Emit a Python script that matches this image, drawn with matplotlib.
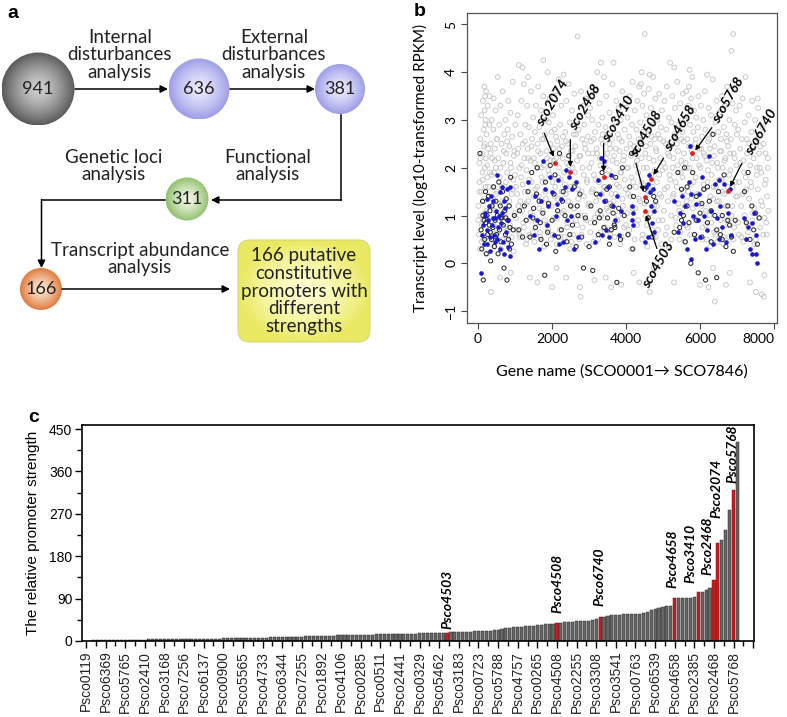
import numpy as np
import matplotlib
matplotlib.use("Agg")
import matplotlib.pyplot as plt
from matplotlib.patches import Circle, FancyBboxPatch
from matplotlib.colors import to_rgb

SANS = ['Lato', 'DejaVu Sans']
ARIAL = ['Liberation Sans', 'DejaVu Sans']

# ---------------- panel a : flow chart ----------------
flow_counts = ['941', '636', '381', '311', '166']
flow_steps = ['Internal\ndisturbances\nanalysis', 'External\ndisturbances\nanalysis',
              'Functional\nanalysis', 'Genetic loci\nanalysis',
              'Transcript abundance\nanalysis']
flow_result = '166 putative\nconstitutive\npromoters with\ndifferent\nstrengths'

# ---------------- panel b : transcript levels ----------------
gray_pts = [
    (10,1.2),(20,0.6),(30,2.1),(40,1.7),(50,0.3),(60,2.6),(70,1.0),(80,3.1),(90,1.5),(100,0.8),
    (110,2.3),(120,1.9),(130,3.4),(140,0.5),(150,2.8),(160,1.3),(170,3.7),(175,3.2),(180,2.5),(185,2.0),
    (190,3.5),(195,2.9),(200,1.6),(205,3.0),(210,2.2),(215,3.6),(220,1.1),(230,2.7),(240,0.2),(250,1.8),
    (260,3.3),(270,2.4),(280,0.9),(290,1.4),(300,2.9),(310,3.5),(320,1.9),(330,0.4),(340,2.5),(350,-0.6),
    (360,1.2),(370,3.0),(380,2.2),(390,0.7),(400,1.6),
    (410,2.8),(420,3.45),(430,1.9),(440,0.35),(450,2.4),(460,1.1),(470,3.2),(480,2.0),(490,0.6),(500,2.6),
    (515,1.5),(530,3.9),(545,2.2),(560,0.9),(575,2.9),(590,1.8),(605,3.3),(620,0.3),(635,2.5),(650,1.3),
    (665,3.6),(680,2.1),(695,0.75),(710,2.7),(725,1.6),(740,3.0),(755,2.3),(770,0.5),(785,1.9),(800,2.8),
    (815,3.4),(830,1.2),(845,2.45),(860,0.8),(875,3.15),(890,2.0),(905,1.45),(920,2.65),(935,3.8),(950,1.75),
    (965,0.25),(980,2.35),(995,1.05),(600,-0.3),(880,-0.2),
    (1010,2.9),(1025,1.6),(1040,0.7),(1055,2.3),(1070,3.1),(1085,1.2),(1100,4.15),(1115,2.0),(1130,0.55),
    (1145,2.7),(1160,1.8),(1175,3.4),(1190,1.1),(1205,2.5),(1220,0.85),(1235,3.75),(1250,2.2),(1265,1.5),
    (1280,2.9),(1295,0.4),(1310,1.95),(1325,3.3),(1340,2.4),(1355,1.3),(1370,2.85),(1385,0.6),(1400,-0.3),
    (1415,2.15),(1430,3.6),(1445,1.7),(1460,2.6),(1475,1.0),(1490,3.05),(1200,4.1),(1350,3.9),
    (1505,2.2),(1520,0.45),(1535,2.75),(1550,1.55),(1565,3.3),(1580,2.0),(1595,0.9),(1610,2.5),(1625,3.7),
    (1640,1.4),(1655,2.85),(1670,0.65),(1685,2.3),(1700,3.2),(1715,1.8),(1730,2.6),(1745,1.1),(1760,3.5),
    (1775,2.05),(1790,0.35),(1805,2.7),(1820,1.5),(1835,3.0),(1850,2.35),(1865,0.8),(1880,4.0),(1895,1.95),
    (1910,2.95),(1925,1.25),(1940,3.45),(1955,2.15),(1970,0.5),(1985,2.75),(2000,-0.5),(1600,-0.4),(1760,4.25),
    (2010,1.7),(2025,3.1),(2040,2.4),(2055,0.95),(2070,2.8),(2085,1.6),(2100,3.6),(2115,2.2),(2130,0.4),
    (2145,2.55),(2160,1.35),(2175,3.85),(2190,2.0),(2205,0.7),(2220,2.9),(2235,1.75),(2250,3.3),(2265,2.45),
    (2280,1.05),(2295,2.65),(2310,3.95),(2325,1.9),(2340,0.55),(2355,2.75),(2370,1.45),(2385,3.4),(2400,2.1),
    (2415,0.85),(2430,2.5),(2445,3.75),(2460,1.55),(2475,2.95),(2490,0.3),(2120,-0.1),(2380,-0.3),
    (2510,2.35),(2525,1.2),(2540,3.2),(2555,2.0),(2570,0.6),(2585,2.7),(2600,3.55),(2615,1.65),(2630,2.45),
    (2645,0.9),(2660,3.0),(2675,2.15),(2690,4.75),(2705,1.35),(2720,2.8),(2735,0.5),(2750,-0.5),(2765,2.25),
    (2780,3.6),(2795,1.5),(2810,2.6),(2825,0.75),(2840,3.3),(2855,1.85),(2870,2.9),(2885,1.0),(2900,2.4),
    (2915,3.45),(2930,0.4),(2945,1.75),(2960,2.65),(2975,3.1),(2990,1.2),(2770,-0.7),
    (3010,2.0),(3025,3.25),(3040,0.85),(3055,2.55),(3070,1.5),(3085,3.0),(3100,2.3),(3115,0.45),(3130,1.85),
    (3145,-0.35),(3160,2.75),(3175,3.6),(3190,1.3),(3205,2.4),(3220,4.0),(3235,1.05),(3250,2.9),(3265,1.7),
    (3280,3.35),(3295,2.2),(3310,0.65),(3325,2.6),(3340,1.45),(3355,3.05),(3370,2.5),(3385,0.95),(3400,3.9),
    (3415,2.05),(3430,1.6),(3445,2.85),(3460,3.5),(3475,1.15),(3490,2.3),(3320,4.2),(3450,-0.3),
    (3510,2.7),(3525,0.7),(3540,1.95),(3555,3.15),(3570,2.4),(3585,1.25),(3600,-0.5),(3615,2.6),(3630,3.75),
    (3645,1.8),(3660,4.2),(3675,2.25),(3690,0.55),(3705,2.95),(3720,1.45),(3735,3.4),(3750,2.1),(3765,0.9),
    (3780,2.7),(3795,3.25),(3810,1.6),(3825,2.35),(3840,0.4),(3855,3.0),(3870,1.9),(3885,2.55),(3900,3.6),
    (3915,1.2),(3930,2.15),(3945,0.75),(3960,2.8),(3975,3.35),(3990,1.55),(3870,-0.45),
    (4010,2.4),(4025,1.05),(4040,3.05),(4055,2.0),(4070,0.6),(4085,2.65),(4100,3.5),(4115,1.4),(4130,2.25),
    (4145,0.3),(4160,2.9),(4175,3.8),(4190,1.7),(4205,-0.2),(4220,2.45),(4235,3.2),(4250,1.15),(4265,2.05),
    (4280,2.8),(4295,0.8),(4310,3.4),(4325,1.9),(4340,2.6),(4355,3.7),(4370,1.3),(4385,2.95),(4400,3.75),
    (4415,2.2),(4430,0.5),(4445,3.3),(4460,1.65),(4475,2.75),(4490,3.55),(4360,-0.4),(4420,4.0),
    (4505,4.8),(4520,2.3),(4535,1.0),(4550,3.1),(4565,2.0),(4580,0.35),(4595,2.7),(4610,3.65),(4625,1.5),
    (4640,-0.6),(4655,2.5),(4670,3.25),(4685,1.85),(4700,0.7),(4715,2.9),(4730,3.9),(4745,2.15),(4760,1.2),
    (4775,2.6),(4790,3.45),(4805,0.55),(4820,2.35),(4835,1.7),(4850,3.0),(4865,2.7),(4880,0.9),(4895,3.55),
    (4910,1.45),(4925,2.2),(4940,2.85),(4955,0.4),(4970,3.2),(4985,1.95),(4640,3.95),(4750,-0.1),
    (5010,2.55),(5025,1.1),(5040,3.4),(5055,2.0),(5070,0.6),(5085,2.8),(5100,3.7),(5115,1.6),(5130,2.3),
    (5145,0.35),(5160,3.05),(5175,1.85),(5190,4.2),(5205,2.45),(5220,1.0),(5235,2.95),(5250,3.5),(5265,1.4),
    (5280,2.2),(5295,-0.4),(5310,2.7),(5325,3.25),(5340,1.7),(5355,0.8),(5370,2.5),(5385,3.8),(5400,2.05),
    (5415,1.25),(5430,2.9),(5445,0.5),(5460,3.35),(5475,1.9),(5490,2.6),(5300,4.1),
    (5505,1.05),(5520,2.75),(5535,3.55),(5550,1.5),(5565,2.3),(5580,0.45),(5595,3.0),(5610,2.1),(5625,3.6),
    (5640,1.3),(5655,2.6),(5670,0.75),(5685,3.3),(5700,3.7),(5715,2.0),(5730,2.9),(5745,1.65),(5760,3.45),
    (5775,2.35),(5790,3.9),(5805,1.15),(5820,2.75),(5835,3.2),(5850,0.6),(5865,2.5),(5880,1.8),(5895,3.05),
    (5910,2.2),(5925,0.9),(5940,2.85),(5955,3.5),(5970,1.45),(5985,2.4),(6000,-0.45),(5720,4.05),
    (6010,2.0),(6025,3.3),(6040,1.2),(6055,2.65),(6070,0.5),(6085,3.0),(6100,2.3),(6115,1.55),(6130,3.6),
    (6145,2.8),(6160,0.8),(6175,2.15),(6190,3.95),(6205,1.7),(6220,2.55),(6235,3.25),(6250,1.0),(6265,2.4),
    (6280,0.35),(6295,3.1),(6310,1.85),(6325,2.7),(6340,3.85),(6355,1.35),(6370,2.25),(6385,0.65),(6400,-0.8),
    (6415,2.95),(6430,1.6),(6445,3.4),(6460,2.1),(6475,0.45),(6490,2.75),(6350,-0.1),(6230,-0.5),
    (6505,1.3),(6520,3.15),(6535,2.35),(6550,0.7),(6565,2.6),(6580,1.75),(6595,3.5),(6610,2.0),(6625,0.4),
    (6640,2.85),(6655,1.45),(6670,3.3),(6685,2.2),(6700,0.9),(6715,2.7),(6730,3.7),(6745,1.6),(6760,2.45),
    (6775,0.55),(6790,3.0),(6805,-0.2),(6820,1.95),(6835,2.6),(6850,4.45),(6865,1.2),(6880,3.35),(6895,4.8),
    (6910,2.3),(6925,0.75),(6940,2.9),(6955,1.7),(6970,3.2),(6985,2.05),(6700,-0.45),
    (7010,1.4),(7030,2.8),(7050,0.6),(7070,3.3),(7090,2.1),(7110,1.2),(7130,2.6),(7150,3.45),(7170,0.45),
    (7190,1.9),(7210,2.95),(7230,3.9),(7250,1.55),(7270,2.3),(7290,0.8),(7310,3.1),(7330,2.5),(7350,-0.4),
    (7370,1.7),(7390,2.75),(7410,3.4),(7430,1.05),(7450,2.2),(7470,0.4),(7490,3.0),(7510,-0.6),(7530,1.85),
    (7550,2.6),(7570,3.25),(7590,0.95),(7610,2.0),(7630,2.45),(7650,1.3),(7670,-0.65),(7690,2.85),(7710,0.6),
    (7730,-0.7),(7750,1.65),(7770,2.3),(7790,0.85),(7810,1.4),(7830,2.0),(7845,1.1),(7560,3.45),(7740,-0.25),
    # denser core of the cloud
    (5,0.9),(35,1.5),(65,2.2),(95,0.45),(125,1.75),(155,2.45),(185,1.05),(215,0.55),(245,2.05),(275,1.6),
    (305,0.95),(335,2.3),(365,1.85),(395,1.35),(425,0.8),(455,2.15),(485,1.45),(515,2.6),(545,0.65),(575,1.25),
    (605,2.0),(635,1.6),(665,0.5),(695,2.35),(725,1.05),(755,1.7),(785,2.55),(815,0.7),(845,1.3),(875,2.1),
    (905,0.55),(935,1.55),(965,2.25),(995,1.85),
    (1025,0.95),(1055,1.45),(1085,2.4),(1115,0.6),(1145,1.3),(1175,2.05),(1205,1.65),(1235,0.75),(1265,2.55),
    (1295,1.25),(1325,0.5),(1355,2.2),(1385,1.75),(1415,1.05),(1445,2.45),(1475,0.65),(1505,1.4),(1535,2.1),
    (1565,0.85),(1595,1.6),(1625,2.35),(1655,1.15),(1685,0.55),(1715,2.0),(1745,1.7),(1775,2.6),(1805,0.9),
    (1835,1.35),(1865,2.2),(1895,0.7),(1925,1.85),(1955,2.5),(1985,1.2),
    (2015,0.6),(2045,2.15),(2075,1.4),(2105,2.65),(2135,0.95),(2165,1.8),(2195,2.4),(2225,0.55),(2255,1.5),
    (2285,2.2),(2315,1.1),(2345,1.65),(2375,2.55),(2405,0.75),(2435,1.3),(2465,2.05),(2495,1.6),(2525,0.45),
    (2555,2.35),(2585,1.15),(2615,1.9),(2645,2.7),(2675,0.8),(2705,1.55),(2735,2.25),(2765,1.0),(2795,0.6),
    (2825,2.0),(2855,1.4),(2885,2.5),(2915,0.9),(2945,1.7),(2975,2.3),
    (3005,1.25),(3035,0.65),(3065,2.1),(3095,1.55),(3125,2.6),(3155,0.95),(3185,1.75),(3215,2.3),(3245,0.5),
    (3275,1.4),(3305,2.05),(3335,1.0),(3365,2.7),(3395,1.6),(3425,0.75),(3455,2.2),(3485,1.85),(3515,1.1),
    (3545,2.5),(3575,0.6),(3605,1.45),(3635,2.15),(3665,1.3),(3695,0.85),(3725,2.4),(3755,1.65),(3785,1.0),
    (3815,2.6),(3845,1.9),(3875,0.55),(3905,1.35),(3935,2.25),(3965,1.75),(3995,0.8),
    (4025,2.0),(4055,1.45),(4085,0.7),(4115,2.5),(4145,1.8),(4175,1.15),(4205,2.3),(4235,0.5),(4265,1.6),
    (4295,2.15),(4325,0.9),(4355,1.35),(4385,2.55),(4415,1.7),(4445,0.6),(4475,2.0),(4505,1.25),(4535,2.45),
    (4565,0.8),(4595,1.5),(4625,2.2),(4655,1.05),(4685,2.65),(4715,1.6),(4745,0.55),(4775,1.95),(4805,2.4),
    (4835,1.2),(4865,0.7),(4895,1.85),(4925,2.6),(4955,1.4),(4985,0.9),
    (5015,2.1),(5045,1.55),(5075,2.5),(5105,0.75),(5135,1.3),(5165,2.25),(5195,1.75),(5225,0.5),(5255,2.0),
    (5285,1.45),(5315,2.65),(5345,0.95),(5375,1.6),(5405,2.35),(5435,1.1),(5465,0.65),(5495,2.15),(5525,1.8),
    (5555,2.55),(5585,1.2),(5615,0.8),(5645,2.0),(5675,1.5),(5705,2.45),(5735,0.6),(5765,1.35),(5795,2.2),
    (5825,1.7),(5855,0.95),(5885,2.6),(5915,1.45),(5945,0.55),(5975,2.05),
    (6005,1.25),(6035,2.4),(6065,0.75),(6095,1.65),(6125,2.25),(6155,1.1),(6185,0.5),(6215,1.95),(6245,2.6),
    (6275,1.4),(6305,0.85),(6335,2.1),(6365,1.6),(6395,2.45),(6425,0.6),(6455,1.3),(6485,2.0),(6515,1.75),
    (6545,0.9),(6575,2.35),(6605,1.5),(6635,0.55),(6665,2.15),(6695,1.2),(6725,2.55),(6755,0.8),(6785,1.85),
    (6815,2.3),(6845,1.0),(6875,1.6),(6905,0.5),(6935,2.2),(6965,1.4),(6995,2.7),
    (7025,0.85),(7055,1.7),(7085,2.4),(7115,0.55),(7145,1.45),(7175,2.15),(7205,1.0),(7235,1.8),(7265,2.6),
    (7295,0.65),(7325,1.35),(7355,2.05),(7385,1.6),(7415,0.9),(7445,2.45),(7475,1.15),(7505,0.5),(7535,2.0),
    (7565,1.55),(7595,2.3),(7625,0.75),(7655,1.9),(7685,1.2),(7715,2.5),(7745,0.95),(7775,1.75),(7805,0.6),
    (7835,2.2),
]

black_pts = [
    (50,2.3),(80,0.7),(100,0.3),(120,1.3),(140,-0.35),(160,0.9),(180,0.5),(200,1.5),(220,0.2),(240,1.0),
    (260,0.6),(280,1.4),(300,0.8),(320,1.1),(340,0.05),(360,0.5),(380,1.2),(400,0.75),(420,1.6),(440,0.35),
    (460,0.9),(480,1.3),(500,0.6),(520,1.0),(540,0.2),(560,1.7),(580,0.7),(600,1.2),(620,0.45),(640,0.95),
    (660,1.5),(680,0.8),(700,-0.1),(720,1.1),(740,0.6),(760,1.35),(780,-0.35),(800,0.9),(820,0.5),(840,1.2),
    (860,0.75),(880,1.8),(900,0.4),(950,0.7),(980,1.0),(130,1.0),(210,0.85),(330,0.65),(470,0.55),(610,0.95),
    (750,0.95),(850,0.3),
    (1100,0.7),(1120,1.1),(1200,0.55),(1250,1.2),(1300,0.9),(1350,1.5),(1400,0.55),(1450,1.9),(1500,1.15),
    (1550,0.75),(1600,2.0),(1650,1.3),(1700,0.5),(1750,1.05),(1800,-0.25),(1820,1.7),(1850,0.4),(1900,1.25),
    (1950,2.05),(2000,0.9),(2050,1.45),(2100,0.25),(2150,1.1),(2200,2.3),(2250,0.7),(2300,1.5),(2350,1.0),
    (2400,0.45),(2450,2.25),(2500,1.2),(2550,0.8),(2600,1.6),(2650,0.35),(2700,1.0),(2750,1.45),(2800,0.55),
    (2850,-0.1),(2900,0.95),(1480,0.95),(1680,0.85),(1880,0.65),(2080,1.85),(2280,1.3),(2480,0.6),(2680,1.2),
    (1580,1.45),(2170,0.55),
    (3000,0.35),(3050,1.2),(3100,-0.15),(3150,0.85),(3200,1.45),(3250,0.6),(3300,1.1),(3350,1.9),(3400,0.75),
    (3450,1.3),(3500,0.95),(3550,1.6),(3600,0.7),(3650,1.05),(3700,0.75),(3720,1.8),(3750,-0.4),(3800,1.15),
    (3850,0.5),(3900,2.0),(3950,1.0),(3550,0.4),(3480,1.55),(3680,0.8),(3620,1.2),(3280,0.95),
    (4050,0.6),(4100,1.6),(4150,2.3),(4180,0.3),(4200,1.4),(4250,2.35),(4500,1.55),(4550,1.3),(4600,0.95),
    (4700,0.55),(4750,1.4),(4800,1.3),
    (5300,0.65),(5400,1.9),(5450,0.75),(5500,1.55),(5550,1.0),(5580,2.0),(5600,0.45),(5650,1.2),(5700,0.85),
    (5750,0.0),(5800,1.9),(5850,0.6),(5900,1.4),(5950,-0.2),(6000,1.05),(6050,0.55),(6100,1.55),(6150,-0.35),
    (6200,0.85),(6250,1.3),(6300,0.45),(6350,2.7),(6400,1.0),(6450,-0.3),(6500,1.5),(6550,0.6),(6600,1.0),
    (6650,1.85),(6700,0.35),(6750,1.2),(6800,0.8),(6850,0.55),(6900,0.25),(5650,1.6),(5900,0.9),(6050,1.25),
    (6300,1.1),(6450,0.7),(6600,0.5),(6750,0.9),(6200,1.6),(5500,0.9),(6950,0.9),
    (7200,1.5),(7250,0.85),(7300,1.9),(7350,0.5),(7400,1.2),(7450,0.7),(7500,1.05),(7550,0.4),(7600,0.95),
]

blue_pts = [
    (100,0.6),(150,0.4),(80,-0.2),(200,1.0),(250,0.7),(280,0.9),(300,1.2),(320,0.55),(350,1.4),(380,0.8),
    (400,1.3),(420,0.6),(450,0.95),(480,1.1),(500,1.85),(520,0.5),(540,0.75),(560,1.0),(600,0.3),(620,0.85),
    (650,1.6),(680,0.45),(700,0.2),(720,1.15),(750,0.65),(780,1.55),(800,0.35),(820,0.9),(850,1.6),(870,0.15),
    (250,0.4),(330,0.25),(410,0.95),(460,0.45),(590,1.5),(640,1.05),(230,1.35),(180,1.05),(130,0.8),(700,1.3),
    (1350,1.7),(1400,1.0),(1500,0.6),(1550,1.4),(1600,0.9),(1700,1.3),(1750,2.15),(1800,1.55),(1850,0.8),
    (1900,1.2),(1950,1.8),(2000,1.5),(2050,0.6),(2100,1.0),(2150,1.75),(2200,0.4),(2250,1.35),(2300,0.45),
    (2350,1.6),(2400,0.9),(2450,1.8),(2500,1.0),(2550,1.55),(2600,0.3),(2650,1.7),(2700,0.55),(1650,0.3),
    (2120,1.25),(2380,1.95),
    (3150,0.45),(3250,1.75),(3300,1.45),(3330,2.2),(3350,0.6),(3400,1.3),(3450,0.7),(3500,1.6),(3550,0.55),
    (3600,1.85),(3650,1.2),(3700,0.9),(3750,1.4),(3800,0.6),(3850,1.1),(3400,2.15),
    (4150,1.2),(4170,0.9),(4180,0.8),(4200,1.05),
    (4500,0.45),(4550,1.6),(4600,1.65),(4650,1.5),(4680,1.2),(4700,0.85),(4720,1.55),(4750,1.1),(4760,0.65),
    (4620,1.85),(4580,0.55),
    (5300,1.3),(5400,0.65),(5450,1.05),(5500,1.4),(5550,0.85),(5600,1.2),(5650,0.3),(5700,1.7),(5720,2.45),
    (5750,1.45),(5760,0.1),(5800,1.0),(5850,0.5),(5900,1.25),(5950,0.9),(6000,0.55),(6050,1.8),(6100,1.0),
    (6150,0.3),(6200,0.7),(6250,2.25),(6300,1.1),(6350,0.4),(6400,1.65),(6450,0.95),(6500,0.5),(6550,1.2),
    (6600,0.75),(6650,1.65),(6700,0.45),(6750,1.05),(6800,1.55),(6850,0.6),(6520,1.75),(5980,1.45),
    (7200,0.95),(7250,0.5),(7300,0.75),(7350,0.3),(7400,0.2),(7450,1.05),(7500,0.6),(7550,0.0),(7400,0.85),
    (7500,0.2),
]

red_genes = ['sco2074', 'sco2468', 'sco3410', 'sco4508', 'sco4503', 'sco4658', 'sco5768', 'sco6740']
red_x = [2088, 2475, 3411, 4518, 4518, 4671, 5778, 6768]
red_y = [2.11, 1.91, 1.81, 1.39, 1.10, 1.76, 2.30, 1.52]

# ---------------- panel c : promoter strength ----------------
strength = [
    0.5, 1.0, 1.2, 1.5, 1.6, 1.8, 2.0, 2.1, 2.3, 2.4,
    2.6, 2.7, 2.8, 2.9, 3.0, 3.1, 3.2, 3.3, 3.4, 3.5,
    3.6, 3.7, 3.8, 3.9, 4.0, 4.1, 4.2, 4.3, 4.4, 4.5,
    4.6, 4.8, 5.0, 5.1, 5.2, 5.4, 5.5, 5.6, 5.8, 6.0,
    6.1, 6.3, 6.5, 6.7, 6.9, 7.1, 7.3, 7.5, 7.7, 8.0,
    8.2, 8.5, 8.7, 9.0, 9.2, 9.5, 9.8, 10.0, 10.3, 10.6,
    10.9, 11.2, 11.4, 11.6, 11.8, 12.0, 12.2, 12.4, 12.6, 12.8,
    13.0, 13.2, 13.4, 13.6, 13.8, 14.0, 14.2, 14.4, 14.6, 14.8,
    15.0, 15.2, 15.4, 15.6, 15.8,
    16.0, 16.2, 16.5, 17.0, 17.0, 17.2, 17.5, 18.0, 18.2, 18.5,
    19.0, 19.2, 19.5, 20.0, 20.2, 20.5, 21.0, 21.5, 22.0, 22.3,
    23.0, 25.0, 27.0, 28.0, 30.0, 30.2, 30.5, 31.0, 31.3, 32.0,
    34.0, 35.0, 35.5, 36.0, 37.0, 39.0, 39.2, 39.5, 40.0, 41.0,
    42.0, 43.0, 43.2, 43.5, 44.0, 46.0, 51.0, 52.0, 53.0, 55.0,
    56.0, 56.2, 56.5, 57.0, 57.2, 58.0, 58.3, 59.0, 62.0, 65.0,
    68.0, 71.0, 73.0, 74.0, 75.0, 90.6, 91.0, 91.5, 92.0, 92.3,
    93.0, 103.0, 105.0, 108.0, 112.0, 129.0, 208.0, 214.0, 236.0, 279.0,
    321.0, 423.0,
]
tick_names = ['Psco0119', 'Psco6369', 'Psco5765', 'Psco2410', 'Psco3168', 'Psco7256', 'Psco6137',
              'Psco0900', 'Psco5565', 'Psco4733', 'Psco6344', 'Psco7255', 'Psco1892', 'Psco4106',
              'Psco0285', 'Psco0511', 'Psco2441', 'Psco0329', 'Psco5462', 'Psco3183', 'Psco0723',
              'Psco5788', 'Psco4757', 'Psco0265', 'Psco4508', 'Psco2255', 'Psco3308', 'Psco3541',
              'Psco0763', 'Psco6539', 'Psco4658', 'Psco2385', 'Psco2468', 'Psco5768']
red_bar_pos = [92, 120, 131, 150, 156, 160, 161, 165]
red_bar_names = ['Psco4503', 'Psco4508', 'Psco6740', 'Psco4658', 'Psco3410', 'Psco2468', 'Psco2074', 'Psco5768']
# label offsets in pixels (dx, gap above bar)
red_label_off = [(0, 4), (1, 10), (-1, 11), (-2, 10), (-8, 9), (-6, 5), (-1, 25), (-1, 7)]

W, H = 787, 717
fig = plt.figure(figsize=(W / 100, H / 100), dpi=100)


def px_axes(x0, y0, x1, y1):
    return fig.add_axes([x0 / W, 1 - y1 / H, (x1 - x0) / W, (y1 - y0) / H])


# ================= panel a =================
axa = px_axes(0, 0, 400, 380)
axa.set_xlim(0, 400)
axa.set_ylim(380, 0)
axa.axis('off')


def gradient_patch(ax, patch, x0, x1, y0, y1, c_center, c_edge, power=1.4):
    n = 200
    yy, xx = np.mgrid[-1:1:n * 1j, -1:1:n * 1j]
    d = np.clip(np.hypot(xx, yy), 0, 1) ** power
    c0 = np.array(to_rgb(c_center))
    c1 = np.array(to_rgb(c_edge))
    img = c0 + (c1 - c0) * d[..., None]
    ax.add_patch(patch)
    im = ax.imshow(img, extent=(x0, x1, y1, y0), aspect='auto', zorder=2, interpolation='bilinear')
    im.set_clip_path(patch)


circles = [  # cx, cy, r, center colour, edge colour
    (38, 89, 36.5, '#d0d0d0', '#5a5a5a'),
    (199, 89, 30.5, '#eaeafc', '#9d9de8'),
    (340, 89, 25, '#eaeafc', '#9d9de8'),
    (187, 199, 21.5, '#f1f6e6', '#90c06c'),
    (41, 289, 21, '#fbe4d0', '#e07a3e'),
]
for (cx, cy, r, cc, ce), label in zip(circles, flow_counts):
    patch = Circle((cx, cy), r, facecolor='none', edgecolor='none', zorder=2)
    gradient_patch(axa, patch, cx - r, cx + r, cy - r, cy + r, cc, ce)
    axa.text(cx, cy, label, ha='center', va='center', fontsize=13, family=SANS,
             color='#222222', zorder=3)

box = FancyBboxPatch((238, 240), 132, 102, boxstyle='round,pad=0,rounding_size=12',
                     facecolor='none', edgecolor='none', zorder=2)
gradient_patch(axa, box, 238, 370, 240, 342, '#ffffd0', '#e9e964', power=1.6)
axa.add_patch(FancyBboxPatch((238, 240), 132, 102, boxstyle='round,pad=0,rounding_size=12',
                             facecolor='none', edgecolor='#d6d67a', lw=0.8, zorder=3))
axa.text(304, 291, flow_result, ha='center', va='center', fontsize=13.5, family=SANS,
         color='#222222', linespacing=1.07, zorder=4)

arw = dict(arrowstyle='-|>', color='black', lw=1.1, mutation_scale=11, shrinkA=0, shrinkB=0)
axa.annotate('', xy=(168, 89), xytext=(75, 89), arrowprops=arw)
axa.annotate('', xy=(315, 89), xytext=(230, 89), arrowprops=arw)
axa.plot([341, 341], [115, 200], color='black', lw=1.1)
axa.annotate('', xy=(211, 200), xytext=(341.5, 200), arrowprops=arw)
axa.plot([165, 41.5], [200, 200], color='black', lw=1.1)
axa.annotate('', xy=(41.5, 268), xytext=(41.5, 199.5), arrowprops=arw)
axa.annotate('', xy=(230, 289), xytext=(62, 289), arrowprops=arw)

step_pos = [(120, 55), (274, 55), (268, 166), (114, 166), (140, 259)]
for (tx, ty), label in zip(step_pos, flow_steps):
    axa.text(tx, ty, label, ha='center', va='center', fontsize=13.5, family=SANS,
             color='#222222', linespacing=1.03)

# ================= panel b =================
axb = px_axes(467, 13, 777, 323)
g = np.array(gray_pts)
k = np.array(black_pts)
bl = np.array(blue_pts)
axb.scatter(g[:, 0], g[:, 1], s=12, facecolors='none', edgecolors='#c6c6c6', linewidths=0.65, zorder=1)
axb.scatter(k[:, 0], k[:, 1], s=9, facecolors='none', edgecolors='#222222', linewidths=0.7, zorder=2)
axb.scatter(bl[:, 0], bl[:, 1], s=11, color='#1a1acd', linewidths=0, zorder=3)
axb.scatter(red_x, red_y, s=12, color='#dd2020', linewidths=0, zorder=4)

axb.set_xlim(-300, 8080)
axb.set_ylim(-1.25, 5.24)
axb.set_xticks([0, 2000, 4000, 6000, 8000])
axb.set_yticks([-1, 0, 1, 2, 3, 4, 5])
axb.tick_params(direction='out', length=4, width=0.8, color='#444444', labelsize=10, pad=3)
for lab in axb.get_xticklabels() + axb.get_yticklabels():
    lab.set_family(SANS)
for lab in axb.get_yticklabels():
    lab.set_rotation(90)
    lab.set_va('center')
axb.get_xticklabels()[-1].set_ha('right')
for sp in axb.spines.values():
    sp.set_color('#555555')
    sp.set_linewidth(0.9)
axb.set_xlabel('Gene name (SCO0001\u2192 SCO7846)', fontsize=11.5, family=SANS)
axb.set_ylabel('Transcript level (log10-transformed RPKM)', fontsize=11, family=SANS)
axb.xaxis.set_label_coords(0.5, -0.135)
axb.yaxis.set_label_coords(-0.125, 0.5)

# gene callouts: text centre, arrow start, arrow end
callouts = {
    'sco2074': ((2016, 3.35), (1791, 2.72), (2043, 2.23)),
    'sco2468': ((2898, 3.26), (2493, 2.59), (2493, 2.02)),
    'sco3410': ((3798, 3.03), (3393, 2.51), (3393, 1.92)),
    'sco4508': ((4563, 2.72), (4266, 2.09), (4473, 1.50)),
    'sco4658': ((5463, 2.82), (5013, 2.20), (4743, 1.85)),
    'sco5768': ((6768, 3.42), (6318, 2.84), (5868, 2.36)),
    'sco6740': ((7668, 2.75), (7128, 2.09), (6813, 1.60)),
    'sco4503': ((4878, -0.03), (4833, 0.31), (4536, 1.01)),
}
carw = dict(arrowstyle='-|>', color='black', lw=0.9, mutation_scale=7, shrinkA=0, shrinkB=0)
for name in red_genes:
    (tx, ty), (sx, sy), (ex, ey) = callouts[name]
    axb.text(tx, ty, name, rotation=60, ha='center', va='center', fontsize=10,
             fontweight='bold', fontstyle='italic', family=SANS, zorder=6)
    axb.annotate('', xy=(ex, ey), xytext=(sx, sy), arrowprops=carw, zorder=6)

# ================= panel c =================
axc = px_axes(82, 425, 754, 641)
pos = np.arange(len(strength))
colors = ['#c41e1e' if i in red_bar_pos else '#666666' for i in pos]
edges = ['#8a1010' if i in red_bar_pos else '#2a2a2a' for i in pos]
axc.bar(pos, strength, width=0.8, color=colors, edgecolor=edges, linewidth=0.35, zorder=2)
axc.set_xlim(-1, 170.2)
axc.set_ylim(0, 458.5)
axc.set_yticks(np.arange(0, 451, 90))
axc.set_yticks(np.arange(45, 451, 90), minor=True)
axc.set_xticks(np.arange(0, 171, 5))
axc.set_xticks(np.arange(2.5, 171, 5), minor=True)
axc.set_xticklabels(tick_names + [''], rotation=90, fontsize=10, family=ARIAL, color='#222222')
for lab in axc.get_yticklabels():
    lab.set_family(ARIAL)
axc.tick_params(axis='both', which='major', direction='out', length=5, width=1.0, labelsize=10, pad=2)
axc.tick_params(axis='both', which='minor', direction='out', length=3.5, width=1.0)
for sp in axc.spines.values():
    sp.set_linewidth(1.2)
axc.set_ylabel('The relative promoter strength', fontsize=11, family=ARIAL)
axc.yaxis.set_label_coords(-0.062, 0.5)

for i, name, (dx, gap) in zip(red_bar_pos, red_bar_names, red_label_off):
    axc.annotate(name, xy=(i, strength[i]), xytext=(dx * 0.72, gap * 0.72), textcoords='offset points',
                 rotation=90, ha='center', va='bottom', fontsize=10, fontweight='bold',
                 fontstyle='italic', family=SANS, zorder=5)

# panel letters
for letter, (lx, ly) in zip('abc', [(13, 13), (420, 12), (34, 418)]):
    fig.text(lx / W, 1 - ly / H, letter, ha='center', va='center', fontsize=14,
             fontweight='bold', family=ARIAL)

fig.savefig('out.png', dpi=100)
